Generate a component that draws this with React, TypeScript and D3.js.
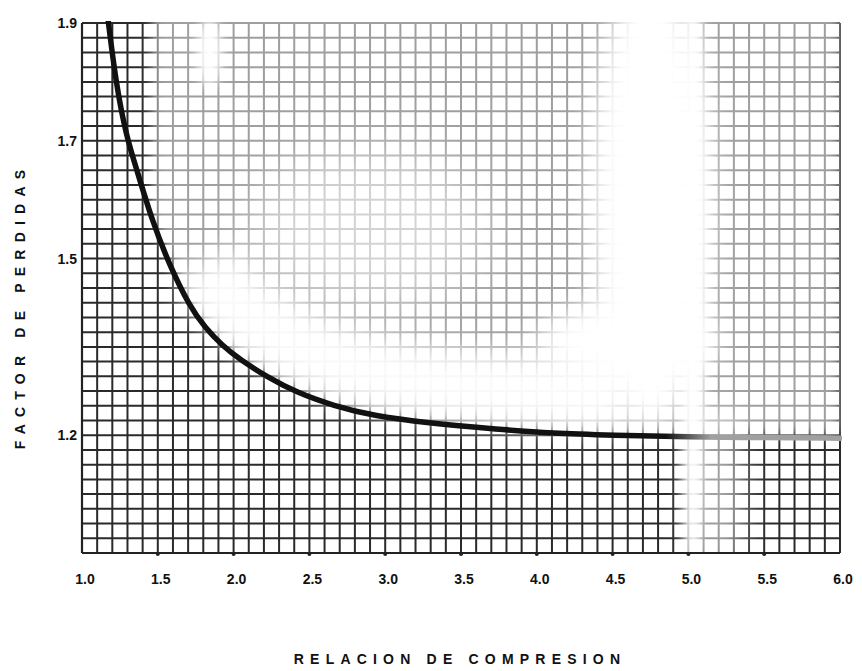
import React from "react";
import * as d3 from "d3";

const xTicks = [1.0, 1.5, 2.0, 2.5, 3.0, 3.5, 4.0, 4.5, 5.0, 5.5, 6.0];
const xTickLabels = ["1.0", "1.5", "2.0", "2.5", "3.0", "3.5", "4.0", "4.5", "5.0", "5.5", "6.0"];
const yTicks = [1.9, 1.7, 1.5, 1.2];
const yTickLabels = ["1.9", "1.7", "1.5", "1.2"];

const curveX = [1.165, 1.225, 1.293, 1.365, 1.46, 1.58, 1.71, 1.81, 1.93, 2.04, 2.22, 2.42, 2.66, 2.92, 3.27, 3.75, 4.1, 4.5, 5.0, 5.5, 6.0];
const curveY = [1.92, 1.795, 1.707, 1.648, 1.566, 1.487, 1.419, 1.383, 1.351, 1.329, 1.299, 1.272, 1.25, 1.233, 1.221, 1.21, 1.203, 1.2, 1.197, 1.196, 1.195];

const xTitle = "RELACION DE COMPRESION";
const yTitle = "FACTOR DE PERDIDAS";

export default function App() {
  const W = 862, H = 671;
  const left = 82, right = 840, top = 23, bottom = 553;
  const x = d3.scaleLinear().domain([1, 6]).range([left, right]);
  const y = d3.scaleLinear().domain([1, 1.9]).range([bottom, top]);

  const vLines = d3.range(0, 51).map((i) => 1 + i * 0.1);
  const hLines = d3.range(0, 37).map((i) => 1 + i * 0.025);

  const pts: [number, number][] = curveX.map((v, i) => [v, curveY[i]]);
  const line = d3.line<[number, number]>().x((d) => x(d[0])).y((d) => y(d[1])).curve(d3.curveBasis);
  const path = line(pts) || "";
  const halo = line(pts.filter((d) => d[0] >= 1.6 && d[0] <= 4.9)) || "";

  const areaAbove = d3
    .area<[number, number]>()
    .x((d) => x(d[0]))
    .y0(top - 20)
    .y1((d) => y(d[1]) - 4)
    .curve(d3.curveBasis);
  const abovePath = areaAbove(pts.filter((d) => d[0] >= 1.46)) || "";

  const font = "'Liberation Sans', Arial, sans-serif";

  return (
    <svg width={W} height={H} style={{ position: "absolute", left: 0, top: 0, background: "#fff" }}>
      <defs>
        <clipPath id="plot">
          <rect x={left - 2} y={top - 2} width={right - left + 4} height={bottom - top + 4} />
        </clipPath>
        <filter id="blur" x="-50%" y="-50%" width="200%" height="200%">
          <feGaussianBlur stdDeviation="14" />
        </filter>
        <filter id="blur2" x="-50%" y="-50%" width="200%" height="200%">
          <feGaussianBlur stdDeviation="6" />
        </filter>
        <filter id="blur3" x="-50%" y="-50%" width="200%" height="200%">
          <feGaussianBlur stdDeviation="25" />
        </filter>
        <linearGradient id="cg" gradientUnits="userSpaceOnUse" x1={x(4.85)} x2={x(5.15)} y1={0} y2={0}>
          <stop offset="0" stopColor="#111" />
          <stop offset="1" stopColor="#a0a0a0" />
        </linearGradient>
      </defs>
      <rect x={0} y={0} width={W} height={H} fill="#fff" />
      <g clipPath="url(#plot)">
        {vLines.map((v, i) => (
          <line key={"v" + i} x1={x(v)} x2={x(v)} y1={top} y2={bottom} stroke="#2a2a2a" strokeWidth={2} />
        ))}
        {hLines.map((v, i) => (
          <line key={"h" + i} x1={left} x2={right} y1={y(v)} y2={y(v)} stroke="#2a2a2a" strokeWidth={2} />
        ))}
        {/* photocopy fading above the curve */}
        <path d={abovePath} fill="#fff" opacity={0.55} filter="url(#blur2)" />
        <path d={halo} fill="none" stroke="#fff" strokeWidth={70} transform="translate(14,-40)" opacity={0.95} filter="url(#blur)" />
        <ellipse cx={x(4.75)} cy={y(1.6)} rx={60} ry={230} fill="#fff" filter="url(#blur)" />
        <ellipse cx={x(4.6)} cy={y(1.36)} rx={90} ry={40} fill="#fff" filter="url(#blur)" />
        <ellipse cx={x(2.9)} cy={y(1.55)} rx={120} ry={80} fill="#fff" opacity={0.55} filter="url(#blur3)" />
        <ellipse cx={x(5.03)} cy={y(1.45)} rx={12} ry={330} fill="#fff" filter="url(#blur2)" />
        <ellipse cx={x(1.84)} cy={y(1.85)} rx={12} ry={35} fill="#fff" filter="url(#blur2)" />
        <ellipse cx={x(5.2)} cy={y(1.1)} rx={25} ry={90} fill="#fff" opacity={0.6} filter="url(#blur)" />
        <path d={path} fill="none" stroke="url(#cg)" strokeWidth={5.5} strokeLinecap="round" />
      </g>
      <line x1={left} x2={left} y1={top} y2={bottom} stroke="#222" strokeWidth={2.2} />
      <line x1={left} x2={right} y1={bottom} y2={bottom} stroke="#222" strokeWidth={2.2} />
      {xTicks.slice(1, -1).map((v, i) => (
        <circle key={"d" + i} cx={x(v)} cy={bottom + 1} r={2} fill="#222" />
      ))}
      {xTicks.map((v, i) => (
        <text key={"xt" + i} x={x(v) + 3} y={584} textAnchor="middle" fontFamily={font} fontWeight="bold" fontSize={14} fill="#111">
          {xTickLabels[i]}
        </text>
      ))}
      {yTicks.map((v, i) => (
        <text key={"yt" + i} x={left - 5} y={y(v) + 5} textAnchor="end" fontFamily={font} fontWeight="bold" fontSize={14} fill="#111">
          {yTickLabels[i]}
        </text>
      ))}
      <text x={460} y={664} textAnchor="middle" fontFamily={font} fontWeight="bold" fontSize={14} letterSpacing={6.2} fill="#111">
        {xTitle}
      </text>
      <text transform={`translate(25,306) rotate(-90)`} textAnchor="middle" fontFamily={font} fontWeight="bold" fontSize={14} letterSpacing={7.2} fill="#111">
        {yTitle}
      </text>
    </svg>
  );
}
